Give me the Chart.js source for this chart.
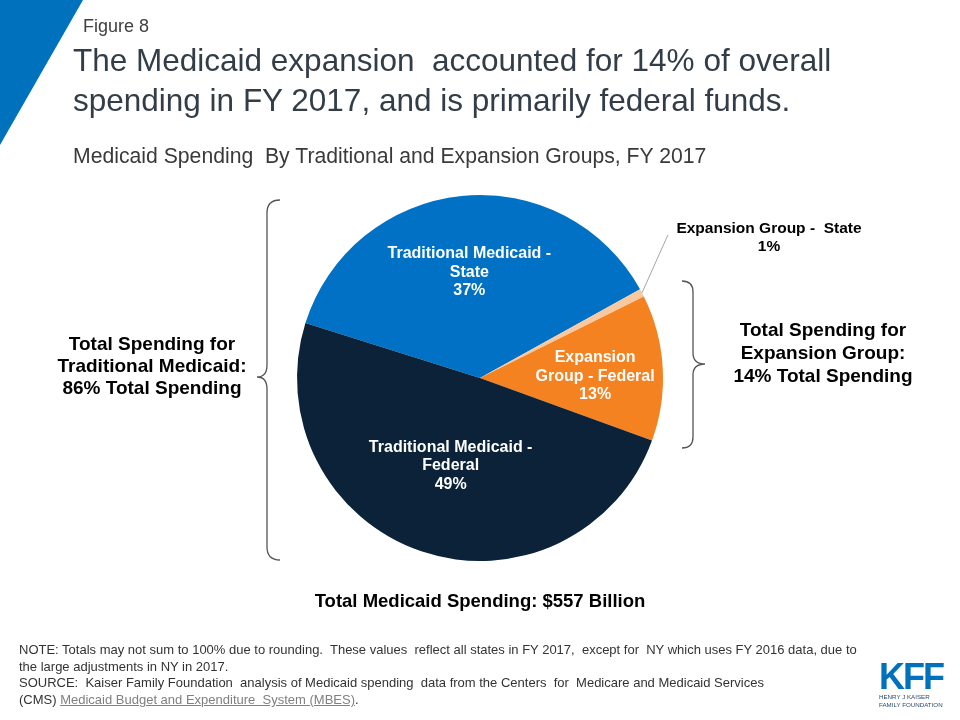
<!DOCTYPE html>
<html>
<head>
<meta charset="utf-8">
<script src="https://cdn.jsdelivr.net/npm/chart.js@4.4.1/dist/chart.umd.min.js"></script>
<style>
  html, body { margin: 0; padding: 0; background: #fff; }
  #page { position: relative; width: 960px; height: 720px; overflow: hidden; font-family: "Liberation Sans", Arial, sans-serif; }
  #chart { position: absolute; left: 0; top: 0; }
  .abs { position: absolute; white-space: nowrap; }
  #fig { left: 83px; top: 15px; font-size: 18px; line-height: 22px; color: #404040; }
  #title { left: 73px; top: 40px; font-size: 31.5px; line-height: 40px; color: #333d47; }
  #subtitle { left: 73px; top: 143px; font-size: 21.2px; line-height: 26px; color: #3a3a3a; }
  .note { font-weight: bold; color: #000; text-align: center; }
  #leftNote { left: 40px; width: 224px; top: 333px; line-height: 22px; font-size: 19px; }
  #rightNote { left: 713px; width: 220px; top: 318px; line-height: 23px; font-size: 19px; }
  #total { left: 280px; width: 400px; top: 589px; font-size: 18.5px; line-height: 24px; }
  #foot { left: 19px; top: 642px; font-size: 13px; line-height: 16.7px; color: #333; }
  #foot a { color: #808080; text-decoration: underline; }
  #logo { left: 879px; top: 661px; color: #0071bc; }
  #kff { font-family: "Liberation Sans Narrow", "Liberation Sans", Arial, sans-serif; font-size: 36px; font-weight: bold; line-height: 31px; letter-spacing: -2px; }
  #kffsub { font-family: "Liberation Sans Narrow", "Liberation Sans", Arial, sans-serif; font-size: 6.2px; line-height: 7.5px; margin-top: 1px; color: #2b4a6b; }
  svg { position: absolute; left: 0; top: 0; }
</style>
</head>
<body>
<div id="page">
  <svg width="960" height="720">
    <polygon points="0,0 83,0 0,145" fill="#0071bc"/>
    <path d="M280,200 Q267,200 267,213 L267,365 Q267,377 257,377 Q267,377 267,389 L267,547 Q267,560 280,560" fill="none" stroke="#555" stroke-width="1.3"/>
    <path d="M682,281 Q693,281 693,292 L693,353 Q693,364 705,364 Q693,364 693,375 L693,437 Q693,448 682,448" fill="none" stroke="#555" stroke-width="1.3"/>
  </svg>
  <canvas id="chart" width="960" height="720"></canvas>
  <div class="abs" id="fig">Figure 8</div>
  <div class="abs" id="title">The Medicaid expansion&nbsp; accounted for 14% of overall<br>spending in FY 2017, and is primarily federal funds.</div>
  <div class="abs" id="subtitle">Medicaid Spending&nbsp; By Traditional and Expansion Groups, FY 2017</div>
  <div class="abs note" id="leftNote">Total Spending for<br>Traditional Medicaid:<br>86% Total Spending</div>
  <div class="abs note" id="rightNote">Total Spending for<br>Expansion Group:<br>14% Total Spending</div>
  <div class="abs note" id="total">Total Medicaid Spending: $557 Billion</div>
  <div class="abs" id="foot">NOTE: Totals may not sum to 100% due to rounding.&nbsp; These values&nbsp; reflect all states in FY 2017,&nbsp; except for&nbsp; NY which uses FY 2016 data, due to<br>the large adjustments in NY in 2017.<br>SOURCE:&nbsp; Kaiser Family Foundation&nbsp; analysis of Medicaid spending&nbsp; data from the Centers&nbsp; for&nbsp; Medicare and Medicaid Services<br>(CMS) <a>Medicaid Budget and Expenditure&nbsp; System (MBES)</a>.</div>
  <div class="abs" id="logo"><div id="kff">KFF</div><div id="kffsub">HENRY J KAISER<br>FAMILY FOUNDATION</div></div>
</div>
<script>
// ---- data ----
const categories = [
  "Traditional Medicaid - State",
  "Expansion Group - State",
  "Expansion Group - Federal",
  "Traditional Medicaid - Federal"
];
const sliceLabelLines = [
  ["Traditional Medicaid -", "State"],
  ["Expansion Group -  State"],
  ["Expansion", "Group - Federal"],
  ["Traditional Medicaid -", "Federal"]
];
const shares = [37.1, 0.7, 12.9, 49.3];   // percent of total spending
const sliceColors = ["#0071c5", "#f8c9a0", "#f58220", "#0b2239"];

// ---- label plugin ----
const labelRadius = [0.58, null, 0.63, 0.5];
const labelShiftY = [0, 0, 5, 1];
const sliceLabels = {
  id: 'sliceLabels',
  afterDatasetsDraw(chart) {
    const ctx = chart.ctx;
    const meta = chart.getDatasetMeta(0);
    ctx.save();
    ctx.textAlign = 'center';
    ctx.textBaseline = 'middle';
    meta.data.forEach((arc, i) => {
      const p = arc.getProps(['x', 'y', 'startAngle', 'endAngle', 'outerRadius'], true);
      const mid = (p.startAngle + p.endAngle) / 2;
      const lines = sliceLabelLines[i].concat([Math.round(shares[i]) + '%']);
      if (labelRadius[i] !== null) {
        const lh = 18.5;
        ctx.font = 'bold 16px "Liberation Sans", Arial, sans-serif';
        const r = p.outerRadius * labelRadius[i];
        const cx = p.x + Math.cos(mid) * r;
        const cy = p.y + Math.sin(mid) * r + labelShiftY[i];
        ctx.fillStyle = '#ffffff';
        lines.forEach((t, k) => ctx.fillText(t, cx, cy + (k - (lines.length - 1) / 2) * lh));
      } else {
        ctx.font = 'bold 15.5px "Liberation Sans", Arial, sans-serif';
        const ex = p.x + Math.cos(mid) * p.outerRadius;
        const ey = p.y + Math.sin(mid) * p.outerRadius;
        const lx = ex + 26, ly = ey - 58;
        ctx.strokeStyle = '#a6a6a6';
        ctx.lineWidth = 1;
        ctx.beginPath();
        ctx.moveTo(ex, ey);
        ctx.lineTo(lx, ly);
        ctx.stroke();
        ctx.fillStyle = '#000000';
        const tx = lx + 101, ty = ly - 6;
        lines.forEach((t, k) => ctx.fillText(t, tx, ty + k * 18));
      }
    });
    ctx.restore();
  }
};

new Chart(document.getElementById('chart'), {
  type: 'pie',
  data: {
    labels: categories,
    datasets: [{
      data: shares,
      backgroundColor: sliceColors,
      borderWidth: 0
    }]
  },
  options: {
    responsive: false,
    animation: false,
    rotation: -72.55,
    layout: { padding: { left: 297, right: 297, top: 195, bottom: 159 } },
    plugins: { legend: { display: false }, tooltip: { enabled: false } }
  },
  plugins: [sliceLabels]
});
</script>
</body>
</html>
